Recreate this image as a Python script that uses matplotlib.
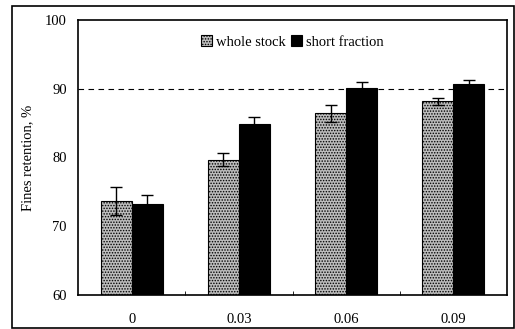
import numpy as np
import matplotlib
matplotlib.use("Agg")
import matplotlib.pyplot as plt
from matplotlib.patches import Rectangle

# data
dosage = ['0', '0.03', '0.06', '0.09']
whole = [73.7, 79.7, 86.4, 88.2]
whole_err = [2.0, 1.0, 1.3, 0.5]
short = [73.3, 84.8, 90.1, 90.7]
short_err = [1.3, 1.1, 0.9, 0.6]

plt.rcParams['font.family'] = ['Liberation Serif', 'DejaVu Serif']
plt.rcParams['hatch.color'] = '#4a4a4a'
plt.rcParams['hatch.linewidth'] = 0.7

fs = 10.5
fig = plt.figure(figsize=(5.15, 3.29), dpi=100)
ax = fig.add_axes([0.1515, 0.1033, 0.833, 0.836])

# outer frame round the whole chart
fig.patches.append(Rectangle((12/515, 1/329), 502/515, 322/329, transform=fig.transFigure,
                             fill=False, edgecolor='black', linewidth=1.2))

x = np.arange(len(dosage))
w = 0.29
ax.axhline(90, color='black', linestyle=(0, (5, 4)), linewidth=0.8, zorder=1)
ax.bar(x - w/2, whole, w, color='#bdbdbd', hatch='......', edgecolor='black',
       linewidth=0.8, label='whole stock', zorder=2)
ax.bar(x + w/2, short, w, color='black', edgecolor='black', linewidth=0.8,
       label='short fraction', zorder=2)
ax.errorbar(x - w/2, whole, yerr=whole_err, fmt='none', ecolor='black', elinewidth=1,
            capsize=4, capthick=1, zorder=3)
ax.errorbar(x + w/2, short, yerr=short_err, fmt='none', ecolor='black', elinewidth=1,
            capsize=4, capthick=1, zorder=3)

ax.set_xlim(-0.5, 3.5)
ax.set_ylim(60, 100)
ax.set_yticks([60, 70, 80, 90, 100])
ax.set_xticks(x)
ax.set_xticklabels(dosage)
ax.set_xticks([0.5, 1.5, 2.5], minor=True)
ax.tick_params(axis='x', which='major', length=0, pad=13, labelsize=fs)
ax.tick_params(axis='x', which='minor', direction='in', length=3)
ax.tick_params(axis='y', length=0, pad=8, labelsize=fs)
for s in ax.spines.values():
    s.set_linewidth(1.2)
ax.set_ylabel('Fines retention, %', fontsize=fs, labelpad=8)

ax.legend(loc='center', bbox_to_anchor=(0.5, 0.92), ncol=2, frameon=False,
          fontsize=fs, handlelength=0.75, handleheight=0.75, handletextpad=0.25,
          columnspacing=0.4, borderpad=0)

fig.savefig('out.png', dpi=100)
